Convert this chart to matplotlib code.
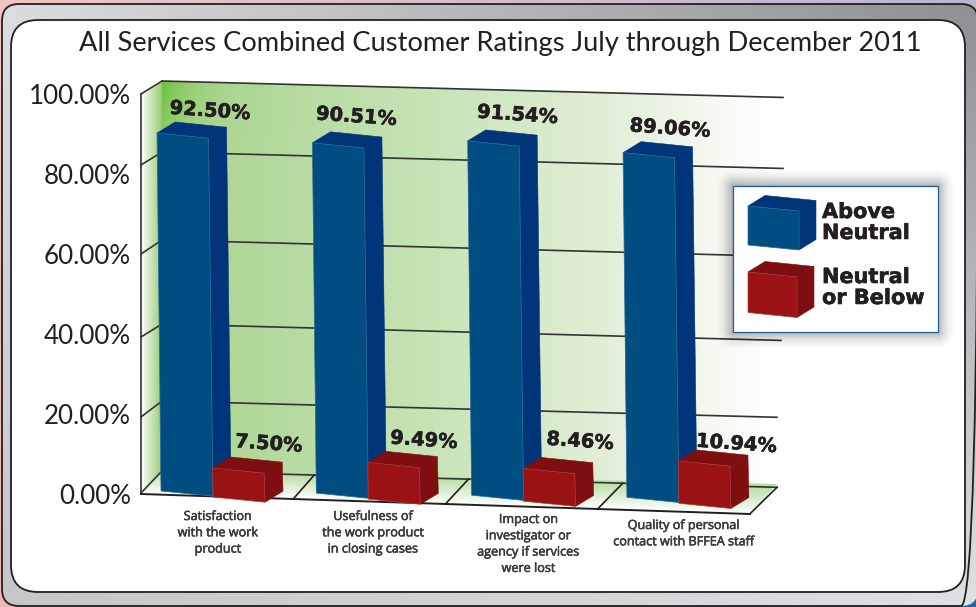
import numpy as np
import matplotlib
matplotlib.use('Agg')
import matplotlib.pyplot as plt
import matplotlib.patheffects as pe
from matplotlib.colors import to_rgb
from matplotlib.patches import FancyBboxPatch, Polygon, Rectangle

title = 'All Services Combined Customer Ratings July through December 2011'
categories = ['Satisfaction\nwith the work\nproduct',
              'Usefulness of\nthe work product\nin closing cases',
              'Impact on\ninvestigator or\nagency if services\nwere lost',
              'Quality of personal\ncontact with BFFEA staff']
above_neutral = [92.50, 90.51, 91.54, 89.06]
neutral_below = [7.50, 9.49, 8.46, 10.94]
y_ticks = [0, 20, 40, 60, 80, 100]
legend_labels = ['Above\nNeutral', 'Neutral\nor Below']

BLUE, BLUE_DARK, BLUE_EDGE = '#004d82', '#00357a', '#2b6a9c'
RED, RED_DARK, RED_EDGE = '#9a1214', '#7f0e10', '#a83a3a'
TEXT = '#231f20'

# the drawing is a slanted 3d chart, so work in picture pixels and project values on to it
PX_PER_PCT = 3.87
CAT_STEP = 155.3
wall_back_y = [471, 401, 324, 240, 152, 81]
wall_front_y = [493, 417, 337, 254, 165, 94]
grid_right_x = [777, 777, 781, 780, 783, 783]
heavy = [pe.withStroke(linewidth=0.4, foreground=TEXT)]
semi = [pe.withStroke(linewidth=0.4, foreground='#3a3a3c')]


def back_line(x, y162):
    return y162 + 0.0265 * (x - 162)


def front_line(x):
    return 494 + (x - 141) * 20 / 609


def gradient(x0, x1, y0, y1, corners):
    # bilinear image from 4 corner colours: tl, tr, bl, br
    tl, tr, bl, br = [np.array(to_rgb(c)) for c in corners]
    u, v = np.meshgrid(np.linspace(0, 1, 200), np.linspace(0, 1, 200))
    u, v = u[..., None], v[..., None]
    img = (1 - v) * ((1 - u) * tl + u * tr) + v * ((1 - u) * bl + u * br)
    return ax.imshow(img, extent=(x0, x1, y1, y0), aspect='auto', interpolation='bilinear')


def cube(x, y, height, width, color, dark, edge, lean=0.043 / PX_PER_PCT, drop=0.1, dep=(18, -11)):
    bl = np.array([x, y])
    br = bl + [width, width * drop]
    tl = bl + [-lean * height, -height]
    tr = br + [-lean * height - 0.5, -height]
    d = np.array(dep)
    ax.add_patch(Polygon([br, tr, tr + d, br + d], fc=dark, ec=dark, lw=0.4, zorder=5))
    ax.add_patch(Polygon([tl, tr, tr + d, tl + d], fc=dark, ec=dark, lw=0.4, zorder=5))
    ax.add_patch(Polygon([bl, br, tr, tl], fc=color, ec=edge, lw=0.5, zorder=5))
    return tl


fig = plt.figure(figsize=(9.76, 6.07), dpi=100)
ax = fig.add_axes([0, 0, 1, 1])

# backdrop and rounded panels
gradient(0, 976, 0, 607, ['#f3c3c4', '#b9b6d2', '#f0b5b8', '#2a62a5'])
panel = FancyBboxPatch((2, 4), 976, 602, boxstyle='round,pad=0,rounding_size=17', fc='none', ec='#231f20', lw=1.3, zorder=1)
ax.add_patch(panel)
im = gradient(2, 978, 4, 606, ['#dcddde', '#8f9094', '#c5c6c8', '#dfe1e3'])
im.set_clip_path(panel)
im.set_zorder(0.5)
ax.add_patch(FancyBboxPatch((11, 20), 954, 572, boxstyle='round,pad=0,rounding_size=27', fc='white', ec='#231f20', lw=1.3, zorder=1))

# back wall
xs = np.linspace(162, 785, 400)
ys = np.linspace(75, 490, 200)
gx, gy = np.meshgrid(xs, ys)
stops_x = [162, 200, 250, 420, 600, 700, 775]
stops_c = [to_rgb(c) for c in ['#a6d585', '#aed793', '#b1d89a', '#c6e3b4', '#e0eed6', '#f3f8ee', '#ffffff']]
wall = np.dstack([np.interp(gx, stops_x, [c[k] for c in stops_c]) for k in range(3)])
hot = (np.exp(-(gx - 162) / 28) * np.clip(1 - (gy - 81) / 90, 0, 1))[..., None]
wall = wall * (1 - hot) + np.array(to_rgb('#6fbe3f')) * hot
im = ax.imshow(wall, extent=(162, 785, 490, 75), aspect='auto', zorder=2)
im.set_clip_path(Polygon([(162, 81), (783, 98), (783, 485), (162, 471)], transform=ax.transData))

# left wall
lw_img = np.dstack([np.interp(np.linspace(141, 162, 60), [141, 162], [1, c]) for c in to_rgb('#98ca72')])
im = ax.imshow(lw_img, extent=(141, 162, 500, 75), aspect='auto', zorder=2)
im.set_clip_path(Polygon([(141, 94), (162, 81), (162, 471), (141, 494)], transform=ax.transData))

# floor
xs = np.linspace(141, 777, 300)
ys = np.linspace(465, 515, 100)
gx, gy = np.meshgrid(xs, ys)
frac = np.clip((gy - back_line(gx, 471)) / (front_line(gx) - back_line(gx, 471)), 0, 1)[..., None]
floor = np.array(to_rgb('#b9dea8')) * (1 - frac) + np.array([1, 1, 1.0]) * frac
im = ax.imshow(floor, extent=(141, 777, 515, 465), aspect='auto', zorder=2)
im.set_clip_path(Polygon([(141, 494), (162, 471), (777, 484), (750, 514)], transform=ax.transData))

# grid lines
for yb, yf, xr in zip(wall_back_y, wall_front_y, grid_right_x):
    ax.plot([162, xr], [yb, back_line(xr, yb)], color='#333333', lw=1.2, zorder=3)
    ax.plot([141, 162], [yf, yb], color='#333333', lw=1.2, zorder=3)
ax.plot([141, 141], [wall_front_y[-1], wall_front_y[0]], color='#333333', lw=1.2, zorder=3)
ax.plot([141, 750], [494, 514], color='#231f20', lw=1.4, zorder=3)
for k in range(1, 5):
    xf = 141 + 152.2 * k
    xb = 160 + 154.25 * k
    ax.plot([xf, xb], [front_line(xf), back_line(xb, 471)], color='#231f20', lw=1.2, zorder=3)

# y axis labels
for v, yl in zip(y_ticks, np.linspace(496, 96, 6)):
    ax.text(131, yl, f'{v:.2f}%', ha='right', va='center', fontsize=18.7, family='Lato', color=TEXT)

# bars and their labels
above_off = [(53, -22), (44, -26), (50, -26), (47, -24)]
below_off = [(56, -24), (56, -22), (57, -27), (58, -17)]
for i in range(4):
    x = 161 + CAT_STEP * i
    y = 491 + 2.1 * i
    tl = cube(x, y, above_neutral[i] * PX_PER_PCT, 52, BLUE, BLUE_DARK, BLUE_EDGE)
    ax.text(tl[0] + above_off[i][0], tl[1] + above_off[i][1], f'{above_neutral[i]:.2f}%', rotation=-4, ha='center', va='center',
            fontsize=14, fontweight='bold', color=TEXT, rotation_mode='anchor', zorder=6, path_effects=heavy)
    tl = cube(x + 52, y + 6, neutral_below[i] * PX_PER_PCT, 52, RED, RED_DARK, RED_EDGE, dep=(18, -11))
    ax.text(tl[0] + below_off[i][0], tl[1] + below_off[i][1], f'{neutral_below[i]:.2f}%', rotation=-4, ha='center', va='center',
            fontsize=14, fontweight='bold', color=TEXT, rotation_mode='anchor', zorder=6, path_effects=heavy)

    top = [510, 510, 513, 519][i]
    ax.text(218 + CAT_STEP * i, top, categories[i], ha='center', va='top', fontsize=9.1,
            family='Open Sans', color='#3a3a3c', linespacing=1.33, zorder=6, path_effects=semi)

# legend box with soft shadow
sx, sy = np.meshgrid(np.linspace(713, 958, 245), np.linspace(166, 352, 186))
dist = np.hypot(np.maximum(np.maximum(733 - sx, sx - 938), 0), np.maximum(np.maximum(186 - sy, sy - 332), 0))
shadow = np.zeros(sx.shape + (4,))
shadow[..., 3] = 0.32 * np.clip(1 - dist / 20, 0, 1) ** 2
ax.imshow(shadow, extent=(713, 958, 352, 166), aspect='auto', zorder=7)
ax.add_patch(Rectangle((733, 186), 205, 146, fc='white', ec='#1f5c9e', lw=0.9, zorder=8))


def legend_cube(x, y, height, width, color, dark, edge):
    bl = np.array([x, y])
    br = bl + [width, 5]
    up = np.array([0, -height])
    d = np.array([17, -10.5])
    ax.add_patch(Polygon([br, br + up, br + up + d, br + d], fc=dark, ec=dark, lw=0.4, zorder=9))
    ax.add_patch(Polygon([bl + up, br + up, br + up + d, bl + up + d], fc=dark, ec=dark, lw=0.4, zorder=9))
    ax.add_patch(Polygon([bl, br, br + up, bl + up], fc=color, ec=edge, lw=0.5, zorder=9))


legend_cube(748, 245, 39, 51, BLUE, BLUE_DARK, BLUE_EDGE)
legend_cube(748, 312.5, 40.5, 49, RED, RED_DARK, RED_EDGE)
ax.text(822, 222.5, legend_labels[0], ha='left', va='center', fontsize=15, fontweight='bold', color=TEXT, linespacing=1.06, zorder=9, path_effects=heavy)
ax.text(822, 287.5, legend_labels[1], ha='left', va='center', fontsize=15, fontweight='bold', color=TEXT, linespacing=1.06, zorder=9, path_effects=heavy)

ax.text(500, 44, title, ha='center', va='center', fontsize=19.6, family='Lato', color=TEXT, zorder=6)

ax.set_xlim(0, 976)
ax.set_ylim(607, 0)
ax.axis('off')
fig.savefig('out.png', dpi=100)
